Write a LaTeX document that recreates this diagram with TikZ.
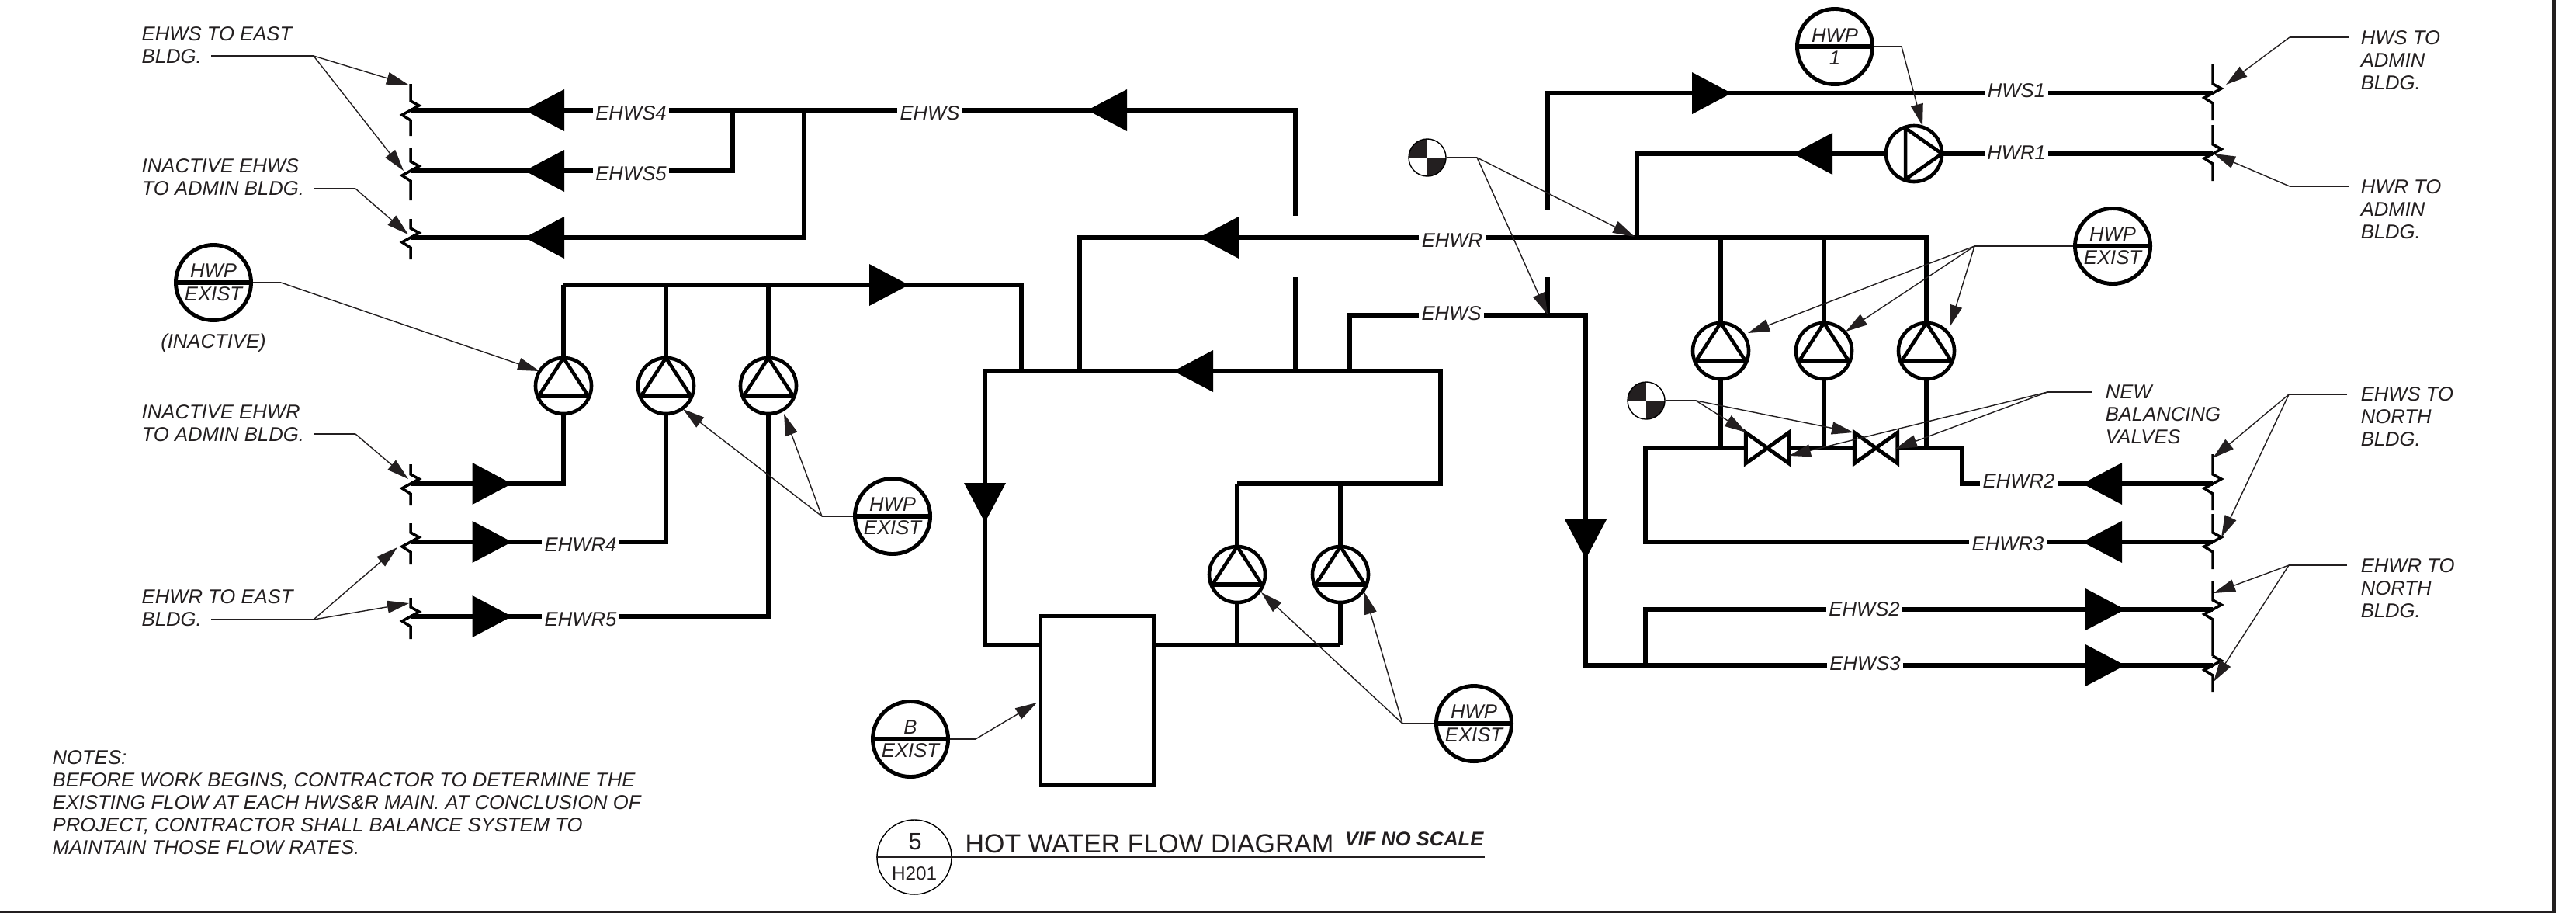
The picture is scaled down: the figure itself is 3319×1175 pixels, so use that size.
\documentclass[tikz,border=0pt]{standalone}
\usepackage{fontspec}
\setmainfont{Liberation Sans}
\usetikzlibrary{arrows.meta,calc}
\definecolor{inkdark}{HTML}{231F20}
\tikzset{
  pipe/.style={line width=1.5pt},
  brkstroke/.style={line width=1pt},
  leadline/.style={line width=.4pt,inkdark},
  leadtip/.style={line width=.4pt,inkdark,-{Triangle[length=2.8mm,width=1.6mm]}},
  pics/flowtip/.style={code={\fill (-25,-27) -- (26,0) -- (-25,27) -- cycle;}},
  pics/brkline/.style 2 args={code={\draw[brkstroke] (0,#1) -- (0,-12) -- (11,-6) -- (-11,6) -- (0,13) -- (0,#2);}},
  pumpbase/.style={circle,draw,line width=1.3pt,minimum size=.72cm,inner sep=0pt,fill=white},
  pumpup/.style={pumpbase,path picture={
    \draw[line width=1.3pt] ($(path picture bounding box.center)+(-32,13)$) -- (path picture bounding box.north) -- ($(path picture bounding box.center)+(32,13)$);
    \draw[line width=1.7pt] ($(path picture bounding box.center)+(-33,13)$) -- ($(path picture bounding box.center)+(33,13)$);}},
  pumpright/.style={pumpbase,path picture={
    \draw[line width=1.3pt] ($(path picture bounding box.center)+(-11,-33)$) -- (path picture bounding box.east) -- ($(path picture bounding box.center)+(-11,33)$) -- cycle;}},
  tagnode/.style={circle,draw,line width=1.4pt,minimum size=.97cm,inner sep=0pt,align=center,
    font=\fontsize{7.3}{8.4}\selectfont\itshape,text=inkdark,path picture={
    \draw[line width=1.7pt] (path picture bounding box.west) -- (path picture bounding box.east);}},
  balnode/.style={circle,draw,line width=.4pt,minimum size=.48cm,inner sep=0pt,path picture={
    \fill[inkdark] (path picture bounding box.center) rectangle (path picture bounding box.north west);
    \fill[inkdark] (path picture bounding box.center) rectangle (path picture bounding box.south east);}},
  valvenode/.style={minimum width=.54cm,minimum height=.38cm,inner sep=0pt,fill=white},
  valvestroke/.style={line width=1.4pt},
  pipelabel/.style={fill=white,inner xsep=1pt,inner ysep=2pt,font=\fontsize{7.3}{8.4}\selectfont\itshape,text=inkdark},
  notelabel/.style={anchor=north west,inner sep=0pt,align=left,font=\fontsize{7.3}{8.25}\selectfont\itshape,text=inkdark},
}
\begin{document}
\begin{tikzpicture}[x=.01cm,y=-.01cm]
    \useasboundingbox (0,0) rectangle (3319,1175);

    \coordinate (endA) at (529,142);
    \coordinate (endB) at (529,220);
    \coordinate (endC) at (529,306);
    \coordinate (endD) at (529,623);
    \coordinate (endE) at (529,698);
    \coordinate (endF) at (529,794);
    \coordinate (jnA) at (944,142);
    \coordinate (jnB) at (1036,142);
    \coordinate (topR) at (1669,142);
    \coordinate (stubA) at (1669,278);
    \coordinate (stubB) at (1669,357);
    \coordinate (busJ) at (1669,478);
    \coordinate (hdrA) at (726,367);
    \coordinate (busA) at (1316,478);
    \coordinate (busL) at (1269,478);
    \coordinate (busR) at (1856,478);
    \coordinate (tankIn) at (1341,831);
    \coordinate (tankOut) at (1486,831);
    \coordinate (ftrR) at (1727,831);
    \coordinate (hdrL) at (1594,623);
    \coordinate (ehwrJ) at (1391,478);
    \coordinate (ehwrR) at (2482,306);
    \coordinate (hwrJ) at (2109,306);
    \coordinate (endH) at (2851,120);
    \coordinate (endI) at (2851,198);
    \coordinate (stubC) at (1994,271);
    \coordinate (stubD) at (1994,357);
    \coordinate (supL) at (1739,478);
    \coordinate (supR) at (2043,406);
    \coordinate (supD) at (2043,857);
    \coordinate (jnS) at (2120,857);
    \coordinate (endJ) at (2851,623);
    \coordinate (endK) at (2851,698);
    \coordinate (endL) at (2851,785);
    \coordinate (endM) at (2851,857);
    \coordinate (jnV) at (2120,577);
    \coordinate (crnV) at (2528,577);

    \node[pumpup] (pumpA) at (726,497) {};
    \node[pumpup] (pumpB) at (858,497) {};
    \node[pumpup] (pumpC) at (990,497) {};
    \node[pumpup] (pumpD) at (1594,740) {};
    \node[pumpup] (pumpE) at (1727,740) {};
    \node[pumpup] (pumpF) at (2217,452) {};
    \node[pumpup] (pumpG) at (2350,452) {};
    \node[pumpup] (pumpH) at (2482,452) {};
    \node[pumpright] (pumpI) at (2466,198) {};
    \node[draw,line width=1.4pt,minimum width=1.45cm,minimum height=2.17cm,inner sep=0pt] (tank) at (1413.5,902.5) {};

    \draw[pipe] (endA) -- (topR) -- (stubA);
    \draw[pipe] (endB) -| (jnA);
    \draw[pipe] (endC) -| (jnB);
    \draw[pipe] (stubB) -- (busJ);
    \draw[pipe] (hdrA) -| (busA);
    \draw[pipe] (pumpA.north) -- (pumpA |- hdrA);
    \draw[pipe] (pumpB.north) -- (pumpB |- hdrA);
    \draw[pipe] (pumpC.north) -- (pumpC |- hdrA);
    \draw[pipe] (endD) -| (pumpA.south);
    \draw[pipe] (endE) -| (pumpB.south);
    \draw[pipe] (endF) -| (pumpC.south);
    \draw[pipe] (tankIn) -| (busL) -- (busR) |- (hdrL);
    \draw[pipe] (tankOut) -- (ftrR);
    \draw[pipe] (pumpD.north) -- (hdrL);
    \draw[pipe] (pumpE.north) -- (pumpE |- hdrL);
    \draw[pipe] (pumpD.south) -- (pumpD |- ftrR);
    \draw[pipe] (pumpE.south) -- (ftrR);
    \draw[pipe] (ehwrJ) |- (ehwrR) -- (pumpH.north);
    \draw[pipe] (pumpF.north) -- (pumpF |- ehwrR);
    \draw[pipe] (pumpG.north) -- (pumpG |- ehwrR);
    \draw[pipe] (endI) -- (pumpI.east);
    \draw[pipe] (pumpI.west) -| (hwrJ);
    \draw[pipe] (endH) -| (stubC);
    \draw[pipe] (stubD) -- (stubD |- supR);
    \draw[pipe] (supL) |- (supR) -- (supD) -- (endM);
    \draw[pipe] (jnS) |- (endL);
    \draw[pipe] (endK) -| (jnV) -- (crnV) |- (endJ);
    \draw[pipe] (pumpF.south) -- (pumpF |- jnV);
    \draw[pipe] (pumpG.south) -- (pumpG |- jnV);
    \draw[pipe] (pumpH.south) -- (pumpH |- jnV);

    \node[valvenode] (valveA) at (2277,577) {};
    \node[valvenode] (valveB) at (2417,577) {};
    \draw[valvestroke] (valveA.north west) -- (valveA.south east) -- (valveA.north east) -- (valveA.south west) -- cycle;
    \draw[valvestroke] (valveB.north west) -- (valveB.south east) -- (valveB.north east) -- (valveB.south west) -- cycle;

    \pic at (529,142) {brkline={-34}{33}};
    \pic at (529,220) {brkline={-30}{38}};
    \pic at (529,306) {brkline={-24}{28}};
    \pic at (529,623) {brkline={-25}{28}};
    \pic at (529,698) {brkline={-24}{29}};
    \pic at (529,794) {brkline={-24}{29}};
    \pic at (2851,120) {brkline={-37}{35}};
    \pic at (2851,198) {brkline={-37}{35}};
    \pic at (2851,623) {brkline={-38}{34}};
    \pic at (2851,698) {brkline={-36}{35}};
    \pic at (2851,785) {brkline={-37}{60}};
    \pic at (2851,857) {brkline={-12}{34}};

    \pic[rotate=180] at (702,142) {flowtip};
    \pic[rotate=180] at (702,220) {flowtip};
    \pic[rotate=180] at (702,306) {flowtip};
    \pic at (633.5,623) {flowtip};
    \pic at (633.5,698) {flowtip};
    \pic at (633.5,794) {flowtip};
    \pic at (1145,367) {flowtip};
    \pic[rotate=180] at (1427,142) {flowtip};
    \pic[rotate=180] at (1571,306) {flowtip};
    \pic[rotate=180] at (1538,478) {flowtip};
    \pic[rotate=-90] at (1269,647) {flowtip};
    \pic[rotate=-90] at (2043,694) {flowtip};
    \pic at (2205,120) {flowtip};
    \pic[rotate=180] at (2336,198) {flowtip};
    \pic[rotate=180] at (2709,623) {flowtip};
    \pic[rotate=180] at (2709,698) {flowtip};
    \pic at (2712,785) {flowtip};
    \pic at (2712,857) {flowtip};

    \node[pipelabel] (lblA) at (813,146) {EHWS4};
    \node[pipelabel] (lblB) at (813,224) {EHWS5};
    \node[pipelabel] (lblC) at (1198,146) {EHWS};
    \node[pipelabel] (lblD) at (1871,310) {EHWR};
    \node[pipelabel] (lblE) at (1870,404) {EHWS};
    \node[pipelabel] (lblF) at (2598,117) {HWS1};
    \node[pipelabel] (lblG) at (2598,197) {HWR1};
    \node[pipelabel] (lblH) at (2601,620) {EHWR2};
    \node[pipelabel] (lblI) at (2587,701) {EHWR3};
    \node[pipelabel] (lblJ) at (2402,785) {EHWS2};
    \node[pipelabel] (lblK) at (2403,855) {EHWS3};
    \node[pipelabel] (lblL) at (748,702) {EHWR4};
    \node[pipelabel] (lblM) at (748,798) {EHWR5};

    \node[tagnode] (tagA) at (275,364) {HWP\\EXIST};
    \node[tagnode] (tagB) at (1150,665) {HWP\\EXIST};
    \node[tagnode] (tagC) at (1899,932) {HWP\\EXIST};
    \node[tagnode] (tagD) at (1173,952) {B\\EXIST};
    \node[tagnode] (tagE) at (2364,60) {HWP\\1};
    \node[tagnode] (tagF) at (2722,317) {HWP\\EXIST};
    \node[balnode] (balA) at (1839,203) {};
    \node[balnode] (balB) at (2121,516) {};

    \node[notelabel] (txtA) at (182,34) {EHWS TO EAST\\BLDG.};
    \node[notelabel] (txtB) at (182,204) {INACTIVE EHWS\\TO ADMIN BLDG.};
    \node[notelabel] (txtC) at (182,521) {INACTIVE EHWR\\TO ADMIN BLDG.};
    \node[notelabel] (txtD) at (182,759) {EHWR TO EAST\\BLDG.};
    \node[notelabel] (txtE) at (3041,39) {HWS TO\\ADMIN\\BLDG.};
    \node[notelabel] (txtF) at (3041,231) {HWR TO\\ADMIN\\BLDG.};
    \node[notelabel] (txtG) at (2712,495) {NEW\\BALANCING\\VALVES};
    \node[notelabel] (txtH) at (3041,498) {EHWS TO\\NORTH\\BLDG.};
    \node[notelabel] (txtI) at (3041,719) {EHWR TO\\NORTH\\BLDG.};
    \node[notelabel,anchor=base] (txtJ) at (275,448) {(INACTIVE)};
    \node[notelabel] (txtK) at (67,966) {NOTES:\\BEFORE WORK BEGINS, CONTRACTOR TO DETERMINE THE\\EXISTING FLOW AT EACH HWS\&R MAIN. AT CONCLUSION OF\\PROJECT, CONTRACTOR SHALL BALANCE SYSTEM TO\\MAINTAIN THOSE FLOW RATES.};

    \coordinate (ldA) at (272,72);
    \coordinate (elA) at (404,72);
    \coordinate (tipA) at (526,109);
    \coordinate (tipB) at (520,220);
    \draw[leadline] (ldA) -- (elA);
    \draw[leadtip] (elA) -- (tipA);
    \draw[leadtip] (elA) -- (tipB);

    \coordinate (ldB) at (405,243);
    \coordinate (elB) at (458,243);
    \coordinate (tipC) at (526,302);
    \draw[leadline] (ldB) -- (elB);
    \draw[leadtip] (elB) -- (tipC);

    \coordinate (elC) at (362,364);
    \coordinate (tipD) at (695,478);
    \draw[leadline] (tagA.east) -- (elC);
    \draw[leadtip] (elC) -- (tipD);

    \coordinate (ldD) at (405,559);
    \coordinate (elD) at (458,559);
    \coordinate (tipE) at (526,617);
    \draw[leadline] (ldD) -- (elD);
    \draw[leadtip] (elD) -- (tipE);

    \coordinate (ldE) at (272,798);
    \coordinate (elE) at (404,798);
    \coordinate (tipF) at (512,705);
    \coordinate (tipG) at (527,777);
    \draw[leadline] (ldE) -- (elE);
    \draw[leadtip] (elE) -- (tipF);
    \draw[leadtip] (elE) -- (tipG);

    \coordinate (elF) at (1059,665);
    \coordinate (tipH) at (880,527);
    \coordinate (tipI) at (1010,533);
    \draw[leadline] (tagB.west) -- (elF);
    \draw[leadtip] (elF) -- (tipH);
    \draw[leadtip] (elF) -- (tipI);

    \coordinate (elG) at (1807,932);
    \coordinate (tipJ) at (1625,763);
    \coordinate (tipK) at (1758,763);
    \draw[leadline] (tagC.west) -- (elG);
    \draw[leadtip] (elG) -- (tipJ);
    \draw[leadtip] (elG) -- (tipK);

    \coordinate (elH) at (1257,952);
    \coordinate (tipL) at (1336,905);
    \draw[leadline] (tagD.east) -- (elH);
    \draw[leadtip] (elH) -- (tipL);

    \coordinate (elI) at (2450,60);
    \coordinate (tipM) at (2477,162);
    \draw[leadline] (tagE.east) -- (elI);
    \draw[leadtip] (elI) -- (tipM);

    \coordinate (elJ) at (2544,317);
    \coordinate (tipN) at (2252,429);
    \coordinate (tipO) at (2378,427);
    \coordinate (tipP) at (2512,421);
    \draw[leadline] (tagF.west) -- (elJ);
    \draw[leadtip] (elJ) -- (tipN);
    \draw[leadtip] (elJ) -- (tipO);
    \draw[leadtip] (elJ) -- (tipP);

    \coordinate (elK) at (1903,203);
    \coordinate (tipQ) at (2106,305);
    \coordinate (tipR) at (1994,405);
    \draw[leadline] (balA.east) -- (elK);
    \draw[leadtip] (elK) -- (tipQ);
    \draw[leadtip] (elK) -- (tipR);

    \coordinate (elL) at (2185,516);
    \coordinate (tipS) at (2250,557);
    \coordinate (tipT) at (2388,557);
    \draw[leadline] (balB.east) -- (elL);
    \draw[leadtip] (elL) -- (tipS);
    \draw[leadtip] (elL) -- (tipT);

    \coordinate (ldM) at (2695,505);
    \coordinate (elM) at (2638,505);
    \coordinate (tipU) at (2305,587);
    \coordinate (tipV) at (2442,578);
    \draw[leadline] (ldM) -- (elM);
    \draw[leadtip] (elM) -- (tipU);
    \draw[leadtip] (elM) -- (tipV);

    \coordinate (ldN) at (3026,48);
    \coordinate (elN) at (2950,48);
    \coordinate (tipW) at (2868,109);
    \draw[leadline] (ldN) -- (elN);
    \draw[leadtip] (elN) -- (tipW);

    \coordinate (ldO) at (3026,240);
    \coordinate (elO) at (2950,240);
    \coordinate (tipX) at (2852,198);
    \draw[leadline] (ldO) -- (elO);
    \draw[leadtip] (elO) -- (tipX);

    \coordinate (ldP) at (3024,508);
    \coordinate (elP) at (2949,508);
    \coordinate (tipY) at (2851,590);
    \coordinate (tipZ) at (2862,692);
    \draw[leadline] (ldP) -- (elP);
    \draw[leadtip] (elP) -- (tipY);
    \draw[leadtip] (elP) -- (tipZ);

    \coordinate (ldQ) at (3024,728);
    \coordinate (elQ) at (2949,728);
    \coordinate (tipAA) at (2852,764);
    \coordinate (tipAB) at (2852,878);
    \draw[leadline] (ldQ) -- (elQ);
    \draw[leadtip] (elQ) -- (tipAA);
    \draw[leadtip] (elQ) -- (tipAB);

    \node[circle,draw,line width=.4pt,minimum size=.96cm,inner sep=0pt] (viewTag) at (1178,1104) {};
    \coordinate (ruleEnd) at (1913,1104);
    \draw[line width=.5pt,inkdark] (viewTag.west) -- (ruleEnd);
    \node[inner sep=0pt,font=\fontsize{8.7}{10}\selectfont,text=inkdark] (viewNum) at (1179,1084) {5};
    \node[inner sep=0pt,font=\fontsize{6.9}{8}\selectfont,text=inkdark] (viewSheet) at (1178,1125) {H201};
    \node[anchor=base west,inner sep=0pt,font=\fontsize{9.64}{11}\selectfont,text=inkdark] (title) at (1243,1098) {HOT WATER FLOW DIAGRAM};
    \node[anchor=base east,inner sep=0pt,font=\fontsize{7.25}{8}\selectfont\bfseries\itshape,text=inkdark] (scaleTxt) at (1912,1089) {VIF NO SCALE};

    \coordinate (frameT) at (3290,0);
    \coordinate (frameB) at (3290,1175);
    \coordinate (frameL) at (0,1175);
    \draw[line width=1.4pt,inkdark] (frameT) -- (frameB) -- (frameL);
\end{tikzpicture}
\end{document}
